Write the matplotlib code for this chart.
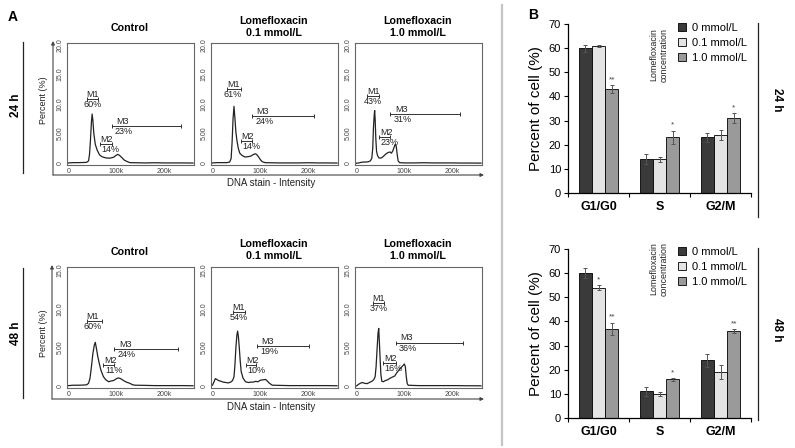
import matplotlib
matplotlib.use('Agg')
import matplotlib.pyplot as plt
import numpy as np

plt.rcParams['font.family'] = ['Liberation Sans', 'DejaVu Sans']

# ---------------- data: flow cytometry histograms (x in k, y in %) ----------------
x_24_ctrl = [0, 10, 20, 30, 38, 42, 44, 46, 48, 49.5, 51, 53, 56, 60, 65, 70, 78, 86, 94, 99, 103, 107, 112, 117, 122, 128, 140, 160, 180, 200, 220, 240, 260]
y_24_ctrl = [0.05, 0.1, 0.1, 0.12, 0.15, 0.4, 1.5, 4.0, 7.0, 8.3, 7.2, 5.0, 3.2, 2.2, 1.4, 1.1, 0.9, 0.85, 1.0, 1.3, 1.5, 1.3, 0.9, 0.5, 0.3, 0.1, 0.08, 0.05, 0.08, 0.05, 0.05, 0.05, 0.03]

x_24_01 = [0, 10, 20, 30, 36, 39, 41, 43, 45, 47, 49, 51, 54, 57, 62, 68, 74, 80, 85, 89, 92, 96, 100, 104, 110, 120, 140, 160, 180, 200, 220, 240, 260]
y_24_01 = [0.05, 0.1, 0.1, 0.1, 0.2, 0.8, 3.5, 7.5, 9.6, 7.5, 5.2, 3.9, 2.5, 1.7, 1.3, 1.05, 1.1, 1.2, 1.45, 1.6, 1.5, 1.1, 0.6, 0.25, 0.1, 0.08, 0.05, 0.05, 0.05, 0.08, 0.05, 0.05, 0.03]

x_24_10 = [0, 5, 10, 15, 20, 25, 29, 32, 34, 35.5, 37, 38, 39, 40.5, 42, 44, 47, 50, 54, 58, 62, 66, 70, 73, 76, 79, 81, 83, 85, 87, 90, 100, 120, 140, 160, 180, 200, 220, 240, 260]
y_24_10 = [0.0, 0.05, 0.15, 0.2, 0.2, 0.25, 0.4, 0.8, 2.5, 6.0, 8.0, 8.9, 7.5, 4.0, 2.0, 1.3, 0.9, 0.85, 1.0, 1.3, 1.6, 1.8, 1.9, 1.7, 2.1, 2.8, 3.2, 2.9, 1.5, 0.4, 0.1, 0.05, 0.05, 0.08, 0.05, 0.05, 0.05, 0.03, 0.03, 0.02]

x_48_ctrl = [0, 10, 20, 30, 38, 42, 45, 48, 51, 54, 56, 58, 61, 64, 68, 73, 78, 84, 89, 94, 99, 104, 109, 115, 121, 128, 134, 140, 160, 180, 200, 220, 240, 260]
y_48_ctrl = [0.05, 0.1, 0.1, 0.12, 0.15, 0.35, 1.0, 2.5, 4.2, 5.3, 5.65, 5.0, 3.9, 3.0, 2.0, 1.2, 0.8, 0.55, 0.65, 0.7, 0.9, 1.05, 0.95, 0.7, 0.5, 0.35, 0.15, 0.1, 0.08, 0.05, 0.05, 0.05, 0.05, 0.03]

x_48_01 = [0, 3, 6, 9, 13, 18, 23, 28, 33, 38, 42, 45, 47, 49, 51, 52.5, 54, 56, 58, 60, 64, 69, 75, 80, 85, 90, 95, 100, 106, 111, 115, 119, 125, 140, 160, 180, 200, 220, 240, 260]
y_48_01 = [0.1, 0.5, 0.95, 0.85, 0.7, 0.6, 0.5, 0.45, 0.4, 0.5, 0.7, 1.2, 2.8, 5.0, 6.6, 7.1, 6.5, 5.0, 3.2, 1.85, 1.0, 0.55, 0.45, 0.5, 0.5, 0.6, 0.55, 0.75, 0.8, 0.85, 0.6, 0.35, 0.1, 0.08, 0.05, 0.05, 0.05, 0.05, 0.05, 0.03]

x_48_10 = [0, 4, 8, 12, 17, 22, 27, 32, 36, 39, 41, 43, 45, 46.5, 48, 49.5, 51, 53, 56, 60, 65, 70, 75, 80, 84, 88, 92, 95, 98, 100, 102, 104, 106, 108, 115, 130, 150, 170, 190, 210, 230, 250, 260]
y_48_10 = [0.0, 0.2, 0.35, 0.45, 0.35, 0.3, 0.45, 0.6, 0.8, 1.2, 2.5, 4.7, 6.8, 7.45, 5.5, 3.4, 1.5, 0.6, 0.55, 0.7, 0.8, 1.0, 1.15, 1.3, 1.7, 2.0, 2.3, 2.5, 2.7, 2.85, 2.5, 1.2, 0.3, 0.1, 0.08, 0.05, 0.05, 0.05, 0.05, 0.05, 0.03, 0.03, 0.02]

# gates: (start k, end k, height)
gates_24_ctrl = [(38, 61, 10.8), (65, 90, 3.2), (90, 235, 6.25)]
gates_24_01 = [(30, 59, 12.5), (59, 82, 3.7), (82, 212, 7.9)]
gates_24_10 = [(22, 47, 11.3), (47, 71, 4.4), (71, 216, 8.3)]
gates_48_ctrl = [(38, 71, 8.4), (73, 96, 2.7), (96, 229, 4.8)]
gates_48_01 = [(42, 67, 9.6), (69, 90, 2.7), (92, 202, 5.2)]
gates_48_10 = [(34, 57, 10.7), (55, 82, 3.0), (82, 222, 5.6)]

pct_24_ctrl = ["60%", "14%", "23%"]
pct_24_01 = ["61%", "14%", "24%"]
pct_24_10 = ["43%", "23%", "31%"]
pct_48_ctrl = ["60%", "11%", "24%"]
pct_48_01 = ["54%", "10%", "19%"]
pct_48_10 = ["37%", "16%", "36%"]

hist_titles = ["Control", "Lomefloxacin\n0.1 mmol/L", "Lomefloxacin\n1.0 mmol/L"]
xtick_vals = [0, 100, 200]
xtick_labels = ["0", "100k", "200k"]
ytick_vals_24 = [0, 5, 10, 15, 20]
ytick_labels_24 = ["0", "5.00", "10.0", "15.0", "20.0"]
ytick_vals_48 = [0, 5, 10, 15]
ytick_labels_48 = ["0", "5.00", "10.0", "15.0"]

# ---------------- data: cell-cycle bar charts ----------------
phases = ["G1/G0", "S", "G2/M"]
conc_labels = ["0 mmol/L", "0.1 mmol/L", "1.0 mmol/L"]

v24_c0 = [60, 14, 23]
e24_c0 = [1.5, 2.0, 1.8]
v24_c01 = [61, 14, 24]
e24_c01 = [0.4, 1.0, 2.0]
v24_c10 = [43, 23, 31]
e24_c10 = [1.7, 2.8, 2.0]
s24 = [["", "", ""], ["", "", ""], ["**", "*", "*"]]

v48_c0 = [60, 11, 24]
e48_c0 = [2.0, 1.8, 2.7]
v48_c01 = [54, 10, 19]
e48_c01 = [1.0, 0.8, 2.8]
v48_c10 = [37, 16, 36]
e48_c10 = [2.5, 0.5, 0.8]
s48 = [["", "", ""], ["*", "", ""], ["**", "*", "**"]]

bar_colors = ["#3a3a3a", "#e4e4e4", "#9a9a9a"]

# ---------------- figure ----------------
W, H = 795, 448
fig = plt.figure(figsize=(W / 100, H / 100), dpi=100)


def rect(l, t, r, b):
    return [l / W, 1 - b / H, (r - l) / W, (b - t) / H]


def hist_panel(left, top, bottom, ylim, x, y, gates, pcts, yt, ytl, ydata_per_px):
    ax = fig.add_axes(rect(left, top, left + 127, bottom))
    ax.set_facecolor('none')
    ax.plot(x, y, color='#222222', lw=0.9)
    ax.set_xlim(-3, 262)
    ax.set_ylim(*ylim)
    for sp in ax.spines.values():
        sp.set_color('#666666')
        sp.set_linewidth(0.8)
    ax.set_xticks(xtick_vals)
    ax.set_xticklabels(xtick_labels)
    ax.set_yticks(yt)
    ax.set_yticklabels(ytl, rotation=90, va='center')
    ax.tick_params(length=0, labelsize=5, pad=2.5, labelcolor='#444444')
    cap = 2.0 * ydata_per_px
    offs_m = [0, 2, 10]
    offs_p = [-6, 3, 7]
    for i, ((x0, x1, gy), p) in enumerate(zip(gates, pcts)):
        ax.plot([x0, x1], [gy, gy], color='#333333', lw=0.7)
        ax.vlines([x0, x1], gy - cap, gy + cap, color='#333333', lw=0.7)
        ax.text(x0 + offs_m[i], gy + 0.3 * ydata_per_px, f"M{i + 1}", fontsize=6.5,
                va='bottom', ha='left', color='#222222')
        ax.text(x0 + offs_p[i], gy - 1.0 * ydata_per_px, p, fontsize=6.5,
                va='top', ha='left', color='#222222')
    return ax


lefts = [67, 211, 355]
top_data = [(x_24_ctrl, y_24_ctrl, gates_24_ctrl, pct_24_ctrl),
            (x_24_01, y_24_01, gates_24_01, pct_24_01),
            (x_24_10, y_24_10, gates_24_10, pct_24_10)]
bot_data = [(x_48_ctrl, y_48_ctrl, gates_48_ctrl, pct_48_ctrl),
            (x_48_01, y_48_01, gates_48_01, pct_48_01),
            (x_48_10, y_48_10, gates_48_10, pct_48_10)]

for l, (x, y, g, p) in zip(lefts, top_data):
    hist_panel(l, 43, 165, (-0.3, 20.3), x, y, g, p, ytick_vals_24, ytick_labels_24, 20.6 / 122)
for l, (x, y, g, p) in zip(lefts, bot_data):
    hist_panel(l, 267, 388, (-0.26, 15.4), x, y, g, p, ytick_vals_48, ytick_labels_48, 15.66 / 121)


def bar_panel(top, bottom, vals, errs, stars, leg_top):
    ax = fig.add_axes(rect(568, top, 751, bottom))
    ax.set_facecolor('none')
    xs = np.arange(len(phases))
    w = 0.218
    for j in range(3):
        pos = xs + (j - 1) * w
        ax.bar(pos, vals[j], w, yerr=errs[j], color=bar_colors[j], edgecolor='black',
               linewidth=0.6, label=conc_labels[j],
               error_kw=dict(ecolor='#555555', elinewidth=0.7, capsize=1.5, capthick=0.7))
        for k in range(3):
            if stars[j][k]:
                ax.text(pos[k], vals[j][k] + errs[j][k] + 0.8, stars[j][k], ha='center',
                        va='bottom', fontsize=6, color='#444444')
    ax.set_xlim(-0.5, 2.5)
    ax.set_ylim(0, 70)
    ax.set_yticks(range(0, 71, 10))
    ax.set_xticks(xs)
    ax.set_xticklabels(phases, fontweight='bold', fontsize=9)
    ax.set_xticks([-0.5, 0.5, 1.5, 2.5], minor=True)
    ax.tick_params(axis='x', which='major', length=0, pad=6)
    ax.tick_params(axis='x', which='minor', length=3, width=0.8, direction='out')
    ax.tick_params(axis='y', length=3, width=0.8, labelsize=8, pad=2)
    for s in ['top', 'right']:
        ax.spines[s].set_visible(False)
    for s in ['left', 'bottom']:
        ax.spines[s].set_linewidth(0.9)
    ax.set_ylabel("Percent of cell (%)", fontsize=11, labelpad=4)
    ax.legend(loc='upper left', bbox_to_anchor=((678 - 568) / 183, (bottom - leg_top) / (bottom - top)),
              frameon=False, fontsize=8, handlelength=0.75, handleheight=0.75,
              handletextpad=0.5, labelspacing=0.45, borderpad=0, borderaxespad=0)
    return ax


bar_panel(24, 193, [v24_c0, v24_c01, v24_c10], [e24_c0, e24_c01, e24_c10], s24, 23)
bar_panel(249, 418, [v48_c0, v48_c01, v48_c10], [e48_c0, e48_c01, e48_c10], s48, 247)

# ---------------- overlay for labels and decorations ----------------
ov = fig.add_axes([0, 0, 1, 1])
ov.set_xlim(0, W)
ov.set_ylim(H, 0)
ov.axis('off')
ov.patch.set_visible(False)

ov.text(13, 17, "A", fontsize=10, fontweight='bold', ha='center', va='center')
ov.text(533, 15, "B", fontsize=10, fontweight='bold', ha='center', va='center')

# separator
ov.plot([502, 502], [5, 445], color='#c4c4c4', lw=1.6)

title_cx = [l + 63 for l in lefts]
for row_y, cy_single in [(27, 28), (250, 252)]:
    for cx, t in zip(title_cx, hist_titles):
        ov.text(cx, row_y if "\n" in t else cy_single, t, fontsize=7.7, fontweight='bold',
                ha='center', va='center', linespacing=1.15)

for (vtop, vbot, px_l, ylab_y, dna_y) in [(41, 175, 53, 100, 183), (265, 399, 52, 333, 407)]:
    ov.annotate('', xy=(px_l, vtop), xytext=(px_l, vbot),
                arrowprops=dict(arrowstyle='-|>', lw=0.8, color='#444444', mutation_scale=5,
                                shrinkA=0, shrinkB=0))
    ov.annotate('', xy=(484, vbot), xytext=(px_l, vbot),
                arrowprops=dict(arrowstyle='-|>', lw=0.8, color='#444444', mutation_scale=5,
                                shrinkA=0, shrinkB=0))
    ov.text(43, ylab_y, "Percent (%)", rotation=90, fontsize=6.5, ha='center', va='center', color='#222222')
    ov.text(271, dna_y, "DNA stain - Intensity", fontsize=7, ha='center', va='center', color='#222222')

ov.plot([23, 23], [42, 173], color='#222222', lw=0.9)
ov.plot([23, 23], [268, 398], color='#222222', lw=0.9)
ov.text(16, 105, "24 h", rotation=90, fontsize=8.5, fontweight='bold', ha='center', va='center')
ov.text(16, 333, "48 h", rotation=90, fontsize=8.5, fontweight='bold', ha='center', va='center')

ov.plot([758, 758], [23, 217], color='#222222', lw=0.9)
ov.plot([758, 758], [248, 420], color='#222222', lw=0.9)
ov.text(777, 100, "24 h", rotation=-90, fontsize=8.5, fontweight='bold', ha='center', va='center')
ov.text(777, 330, "48 h", rotation=-90, fontsize=8.5, fontweight='bold', ha='center', va='center')

for ttop in [28, 242]:
    ov.text(659, ttop, "Lomefloxacin\nconcentration", rotation=90, fontsize=6.4,
            ha='center', va='top', multialignment='right', linespacing=1.1, color='#222222')

fig.savefig("out.png", dpi=100)
